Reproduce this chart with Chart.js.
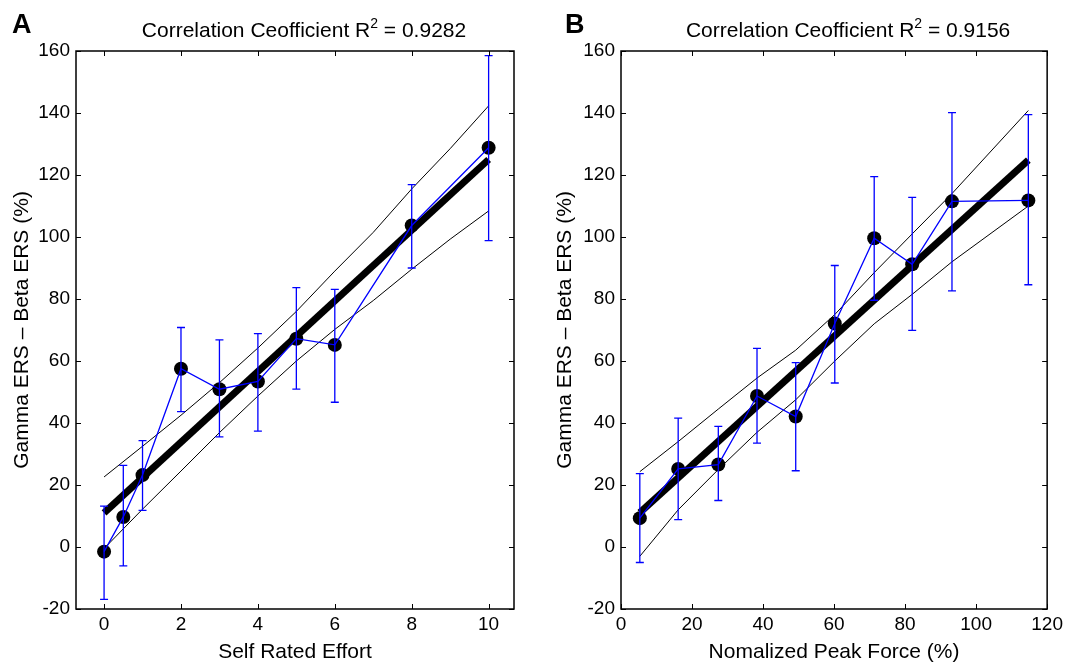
<!DOCTYPE html>
<html><head><meta charset="utf-8">
<script src="https://cdn.jsdelivr.net/npm/chart.js@4"></script>
<style>
html,body{margin:0;padding:0;background:#fff;}
#wrap{position:relative;width:1067px;height:665px;overflow:hidden;background:#fff;}
canvas{position:absolute;top:0;}
</style></head><body>
<div id="wrap">
<canvas id="ca" width="533" height="665" style="left:0px"></canvas>
<canvas id="cb" width="524" height="665" style="left:543px"></canvas>
</div>
<script>
// ---------- Panel A data ----------
const A_X      = [0, 0.5, 1, 2, 3, 4, 5, 6, 8, 10];
const A_Y      = [-1.5, 9.7, 23.2, 57.5, 50.9, 53.4, 67.2, 65.2, 103.7, 128.8];
const A_ERR_HI = [13.2, 26.3, 34.3, 70.8, 66.8, 68.8, 83.7, 83.1, 116.9, 158.5];
const A_ERR_LO = [-16.9, -6.1, 11.8, 43.7, 35.5, 37.4, 50.9, 46.7, 90.0, 98.8];
const A_FIT_X  = [0, 10];
const A_FIT_Y  = [11, 125];
const A_BAND_X  = [0, 1, 2, 3, 4, 5, 6, 7, 8, 9, 10];
const A_BAND_UP = [22.6, 32.5, 42.5, 53, 64.2, 76, 89, 101.5, 115.5, 128.5, 142.3];
const A_BAND_LO = [-0.5, 12.2, 24.5, 36.9, 48.7, 60, 70.2, 79.5, 89.6, 99.3, 108.4];
const A_X_TICKS = [0, 2, 4, 6, 8, 10];

// ---------- Panel B data ----------
const B_X      = [5.3, 16.1, 27.4, 38.3, 49.2, 60.2, 71.3, 82.0, 93.2, 114.7];
const B_Y      = [9.3, 25.2, 26.6, 48.7, 42.1, 72.1, 99.6, 91.2, 111.5, 111.8];
const B_ERR_HI = [23.7, 41.6, 38.9, 64.1, 59.5, 90.8, 119.5, 112.8, 140.1, 139.5];
const B_ERR_LO = [-5.0, 8.8, 15.0, 33.5, 24.6, 52.9, 79.6, 69.9, 82.6, 84.6];
const B_FIT_X  = [5.3, 114.7];
const B_FIT_Y  = [11.1, 124.8];
const B_BAND_X  = [5.3, 16.1, 27.4, 38.3, 49.2, 60.2, 71.3, 82.0, 93.2, 114.7];
const B_BAND_UP = [24.3, 34, 44.5, 54.5, 63.5, 75, 88.5, 101, 114, 140.8];
const B_BAND_LO = [-3, 12, 25, 37, 47.5, 60, 72, 81.5, 92, 110];
const B_X_TICKS = [0, 20, 40, 60, 80, 100, 120];

const Y_TICKS = [-20, 0, 20, 40, 60, 80, 100, 120, 140, 160];
const Y_LABEL = 'Gamma ERS \u2013 Beta ERS (%)';
const A_X_LABEL = 'Self Rated Effort';
const B_X_LABEL = 'Nomalized Peak Force (%)';
const TITLE_MAIN = 'Correlation Ceofficient R';
const TITLE_SUP = '2';
const A_TITLE_REST = ' = 0.9282';
const B_TITLE_REST = ' = 0.9156';

const FONT = '"Liberation Sans", Arial, Helvetica, sans-serif';
Chart.defaults.color = '#000';
Chart.defaults.font.family = FONT;

const pts = (xs, ys) => xs.map((x, i) => ({x, y: ys[i]}));

const panelPlugin = {
  id: 'panel',
  afterDatasetsDraw(chart) {
    const o = chart.options.plugins.panel;
    const {ctx, scales: {x, y}} = chart;
    ctx.save();
    ctx.strokeStyle = '#0000ff';
    ctx.lineWidth = 1.3;
    const cap = 4;
    o.ex.forEach((xv, i) => {
      const px = x.getPixelForValue(xv);
      const pl = y.getPixelForValue(o.lo[i]);
      const ph = y.getPixelForValue(o.hi[i]);
      ctx.beginPath();
      ctx.moveTo(px, pl); ctx.lineTo(px, ph);
      ctx.moveTo(px - cap, pl); ctx.lineTo(px + cap, pl);
      ctx.moveTo(px - cap, ph); ctx.lineTo(px + cap, ph);
      ctx.stroke();
    });
    ctx.restore();
  },
  afterDraw(chart) {
    const o = chart.options.plugins.panel;
    const {ctx, chartArea: {left, right, top, bottom}, scales: {x, y}} = chart;
    ctx.save();
    ctx.strokeStyle = '#000';
    ctx.lineWidth = 1.5;
    ctx.strokeRect(left, top, right - left, bottom - top);
    ctx.lineWidth = 1;
    const L = 5;
    ctx.beginPath();
    x.ticks.forEach(t => {
      const px = Math.round(x.getPixelForValue(t.value)) + 0.5;
      ctx.moveTo(px, bottom); ctx.lineTo(px, bottom - L);
      ctx.moveTo(px, top); ctx.lineTo(px, top + L);
    });
    y.ticks.forEach(t => {
      const py = Math.round(y.getPixelForValue(t.value)) + 0.5;
      ctx.moveTo(left, py); ctx.lineTo(left + L, py);
      ctx.moveTo(right, py); ctx.lineTo(right - L, py);
    });
    ctx.stroke();
    // panel letter
    ctx.fillStyle = '#000';
    ctx.textBaseline = 'alphabetic';
    ctx.textAlign = 'left';
    ctx.font = 'bold 27px ' + FONT;
    ctx.fillText(o.letter, o.letterX, 33);
    // title with superscript
    ctx.font = '21px ' + FONT;
    const w1 = ctx.measureText(TITLE_MAIN).width;
    const w3 = ctx.measureText(o.rest).width;
    ctx.font = '14px ' + FONT;
    const w2 = ctx.measureText(TITLE_SUP).width;
    const total = w1 + w2 + w3;
    let sx = (left + right) / 2 + o.titleShift - total / 2;
    const by = 37;
    ctx.font = '21px ' + FONT;
    ctx.fillText(TITLE_MAIN, sx, by);
    ctx.font = '14px ' + FONT;
    ctx.fillText(TITLE_SUP, sx + w1, by - 9);
    ctx.font = '21px ' + FONT;
    ctx.fillText(o.rest, sx + w1 + w2, by);
    ctx.restore();
  }
};

function makePanel(id, d) {
  return new Chart(document.getElementById(id), {
    type: 'scatter',
    data: {datasets: [
      {data: pts(d.x, d.y), pointRadius: 7, pointBackgroundColor: '#000', pointBorderColor: '#000', pointBorderWidth: 0, showLine: false, order: 4},
      {data: pts(d.fitX, d.fitY), showLine: true, borderColor: '#000', borderWidth: 7, pointRadius: 0, borderCapStyle: 'butt', order: 3},
      {data: pts(d.bandX, d.bandUp), showLine: true, borderColor: '#000', borderWidth: 1, pointRadius: 0, order: 2},
      {data: pts(d.bandX, d.bandLo), showLine: true, borderColor: '#000', borderWidth: 1, pointRadius: 0, order: 2},
      {data: pts(d.x, d.y), showLine: true, borderColor: '#0000ff', borderWidth: 1.3, pointRadius: 0, order: 1}
    ]},
    options: {
      responsive: false, animation: false, events: [],
      layout: {padding: {left: 0, right: d.padRight, top: 51, bottom: 0}},
      plugins: {
        legend: {display: false}, tooltip: {enabled: false},
        panel: {ex: d.x, lo: d.lo, hi: d.hi, letter: d.letter, letterX: d.letterX, rest: d.rest, titleShift: d.titleShift}
      },
      scales: {
        x: {
          type: 'linear', min: d.xMin, max: d.xMax,
          afterBuildTicks: s => { s.ticks = d.xTicks.map(v => ({value: v})); },
          afterFit: s => { s.height = 56; },
          grid: {display: false, drawTicks: false}, border: {display: false},
          ticks: {padding: 4, autoSkip: false, maxRotation: 0, color: '#000', font: {size: 19, family: FONT}, callback: v => String(v)},
          title: {display: true, text: d.xLabel, color: '#000', font: {size: 21, family: FONT, lineHeight: 1.2}, padding: {top: 0, bottom: 0}}
        },
        y: {
          type: 'linear', min: -20, max: 160,
          afterBuildTicks: s => { s.ticks = Y_TICKS.map(v => ({value: v})); },
          afterFit: s => { s.width = d.yWidth; },
          grid: {display: false, drawTicks: false}, border: {display: false},
          ticks: {padding: 6, autoSkip: false, color: '#000', font: {size: 19, family: FONT}, callback: v => String(v)},
          title: {display: true, text: Y_LABEL, color: '#000', font: {size: 21, family: FONT, lineHeight: 1.2}, padding: {top: 10, bottom: 0}}
        }
      }
    },
    plugins: [panelPlugin]
  });
}

makePanel('ca', {
  x: A_X, y: A_Y, lo: A_ERR_LO, hi: A_ERR_HI, fitX: A_FIT_X, fitY: A_FIT_Y,
  bandX: A_BAND_X, bandUp: A_BAND_UP, bandLo: A_BAND_LO, xTicks: A_X_TICKS,
  xMin: -0.73, xMax: 10.66, xLabel: A_X_LABEL, padRight: 19, yWidth: 76,
  letter: 'A', letterX: 12, rest: A_TITLE_REST, titleShift: 9
});
makePanel('cb', {
  x: B_X, y: B_Y, lo: B_ERR_LO, hi: B_ERR_HI, fitX: B_FIT_X, fitY: B_FIT_Y,
  bandX: B_BAND_X, bandUp: B_BAND_UP, bandLo: B_BAND_LO, xTicks: B_X_TICKS,
  xMin: 0, xMax: 120, xLabel: B_X_LABEL, padRight: 18, yWidth: 78,
  letter: 'B', letterX: 22, rest: B_TITLE_REST, titleShift: 14
});
</script>
</body></html>
